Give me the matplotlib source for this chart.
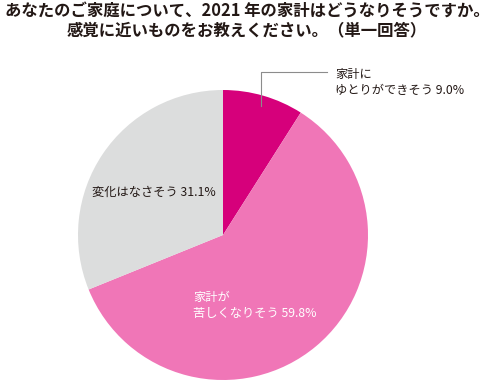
import matplotlib.pyplot as plt

plt.rcParams['font.family'] = ['Noto Sans CJK JP', 'DejaVu Sans']

labels = ['家計に\nゆとりができそう 9.0%', '家計が\n苦しくなりそう 59.8%', '変化はなさそう 31.1%']
values = [9.0, 59.8, 31.1]
colors = ['#d6007b', '#f076b7', '#dcdddd']

W, H = 494, 381
fig = plt.figure(figsize=(W / 100, H / 100), dpi=100)

# pie axes: center (223, 235) px, radius 145 px
ax = fig.add_axes([78 / W, 1 - 380 / H, 290 / W, 290 / H])
ax.pie(values, colors=colors, startangle=90, counterclock=False,
       wedgeprops=dict(linewidth=0))
ax.set_aspect('equal')
ax.set_xlim(-1, 1)
ax.set_ylim(-1, 1)
ax.axis('off')

txt = '#231815'
fig.text(0.5, 1 - 2 / H, 'あなたのご家庭について、2021 年の家計はどうなりそうですか。\n感覚に近いものをお教えください。（単一回答）',
         ha='center', va='top', fontsize=11.8, fontweight='bold', color=txt,
         linespacing=1.12)

# leader line for the small slice
fig.add_artist(plt.Line2D([261 / W, 261 / W, 327 / W],
                          [1 - 106 / H, 1 - 72 / H, 1 - 72 / H],
                          color='#8c8c8c', linewidth=0.8))
fig.text(335 / W, 1 - 82 / H, labels[0], ha='left', va='center',
         fontsize=8.8, color=txt, linespacing=1.3)
fig.text(193 / W, 1 - 305 / H, labels[1], ha='left', va='center',
         fontsize=8.8, color='white', linespacing=1.3)
fig.text(92 / W, 1 - 192 / H, labels[2], ha='left', va='center',
         fontsize=8.8, color=txt)

fig.savefig('out.png', dpi=100)
